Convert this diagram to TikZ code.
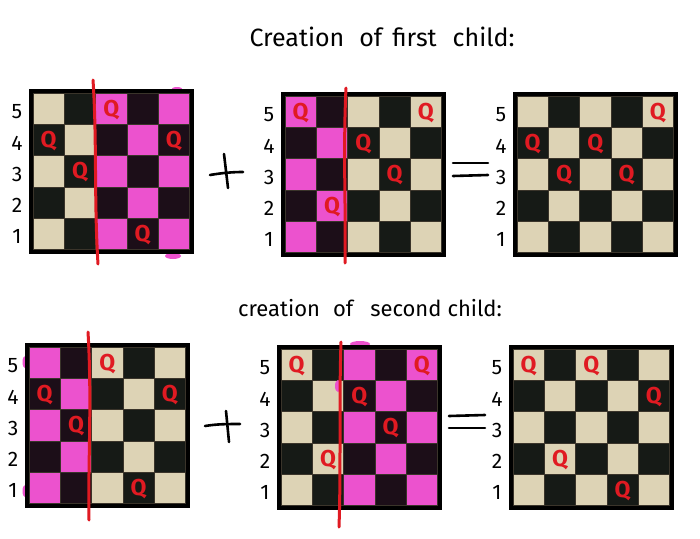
\documentclass[tikz,border=0pt]{standalone}
\usepackage{fontspec}
\setmainfont{Fira Sans}
\definecolor{lightcell}{HTML}{DDD3B5}
\definecolor{darkcell}{HTML}{161A16}
\definecolor{pinkcell}{HTML}{EC52CE}
\definecolor{darkpink}{HTML}{1C0E18}
\definecolor{qred}{HTML}{E01A22}
\definecolor{gridline}{HTML}{3A342A}
\tikzset{
 queen/.style={text=qred, font=\fontsize{23}{23}\selectfont\bfseries, inner sep=0pt},
 rowlabel/.style={font=\fontsize{21}{21}\selectfont, inner sep=0pt},
 titleA/.style={font=\fontsize{25}{25}\selectfont, inner sep=0pt},
 titleB/.style={font=\fontsize{22}{22}\selectfont, inner sep=0pt},
 cutline/.style={draw=qred, line width=3pt, line cap=round},
 handline/.style={draw=black, line width=2.6pt, line cap=round},
 blot/.style={fill=pinkcell},
}
\def\cellS{31.3}
\newcommand\myboard[5]{% #1 name, #2 x0, #3 y0, #4 first pink col, #5 last pink col
 \fill[black] (#2-4.5,#3-4.5) rectangle ({#2+5*\cellS+4.5},{#3+5*\cellS+4.5});
 \foreach \colI in {1,...,5}{
  \foreach \rowI in {1,...,5}{
   \pgfmathtruncatemacro\parI{mod(\colI+\rowI,2)}
   \ifnum\parI=0 \def\fillc{lightcell}\else\def\fillc{darkcell}\fi
   \ifnum\colI<#4\relax\else\ifnum\colI>#5\relax\else
     \ifnum\parI=0 \def\fillc{pinkcell}\else\def\fillc{darkpink}\fi\fi\fi
   \fill[\fillc,draw=gridline,line width=0.5pt] ({#2+(\colI-1)*\cellS},{#3+(5-\rowI)*\cellS}) rectangle ++(\cellS,\cellS);
  }
  \node[rowlabel] (#1l\colI) at ({#2-16},{#3+(5.5-\colI)*\cellS+3}) {\colI};
 }
 \coordinate (#1) at (#2,#3);
}
\newcommand\qat[5]{% #1 x0, #2 y0, #3 col, #4 row, #5 name
 \node[queen] (#5) at ({#1+(#3-0.5)*\cellS},{#2+(5.5-#4)*\cellS+1}) {Q};
}
\begin{document}
\begin{tikzpicture}[x=1pt,y=-1pt]
\fill[white] (0,0) rectangle (700,538);
\useasboundingbox (0,0) rectangle (700,538);

\node[titleA] (t1) at (382,37) {Creation\hspace{15pt}of\hspace{10pt}first\hspace{16pt}child:};
\node[titleB] (t2) at (370,308) {creation\hspace{13pt}of\hspace{17pt}second\hspace{6pt}child:};

% pink highlighter overflow around the frames
\fill[blot] (177,90) ellipse (6pt and 3pt);
\fill[blot] (173,256) ellipse (8pt and 3pt);
\fill[blot] (25,362) ellipse (2.5pt and 6pt);
\fill[blot] (25,491) ellipse (2.5pt and 6pt);
\fill[blot] (360,344) ellipse (10pt and 3pt);

% top row
\myboard{b1}{33}{93}{3}{5}
\qat{33}{93}{3}{5}{b1q1}\qat{33}{93}{1}{4}{b1q2}\qat{33}{93}{5}{4}{b1q3}\qat{33}{93}{2}{3}{b1q4}\qat{33}{93}{4}{1}{b1q5}
\myboard{b2}{285}{96}{1}{2}
\qat{285}{96}{1}{5}{b2q1}\qat{285}{96}{5}{5}{b2q2}\qat{285}{96}{3}{4}{b2q3}\qat{285}{96}{4}{3}{b2q4}\qat{285}{96}{2}{2}{b2q5}
\myboard{b3}{517}{96}{9}{9}
\qat{517}{96}{5}{5}{b3q1}\qat{517}{96}{1}{4}{b3q2}\qat{517}{96}{3}{4}{b3q3}\qat{517}{96}{2}{3}{b3q4}\qat{517}{96}{4}{3}{b3q5}

% bottom row
\myboard{b4}{29}{347}{1}{2}
\qat{29}{347}{3}{5}{b4q1}\qat{29}{347}{1}{4}{b4q2}\qat{29}{347}{5}{4}{b4q3}\qat{29}{347}{2}{3}{b4q4}\qat{29}{347}{4}{1}{b4q5}
\myboard{b5}{281}{349}{3}{5}
\fill[blot] (338,386) ellipse (3pt and 6pt);
\qat{281}{349}{1}{5}{b5q1}\qat{281}{349}{5}{5}{b5q2}\qat{281}{349}{3}{4}{b5q3}\qat{281}{349}{4}{3}{b5q4}\qat{281}{349}{2}{2}{b5q5}
\myboard{b6}{513}{349}{9}{9}
\qat{513}{349}{1}{5}{b6q1}\qat{513}{349}{3}{5}{b6q2}\qat{513}{349}{5}{4}{b6q3}\qat{513}{349}{2}{2}{b6q4}\qat{513}{349}{4}{1}{b6q5}

% crossover cut lines
\draw[cutline] (93,80) .. controls (97,140) and (94,200) .. (98,264);
\draw[cutline] (346,88) .. controls (343,150) and (346,210) .. (345,263);
\draw[cutline] (88,332) .. controls (92,400) and (88,460) .. (89,520);
\draw[cutline] (341,342) .. controls (339,400) and (341,470) .. (339,527);

% plus and equals signs
\draw[handline] (210,175) .. controls (222,173) and (232,172) .. (243,172);
\draw[handline] (224,154) -- (228,188);
\draw[handline] (453,163) -- (488,163);
\draw[handline] (453,176) -- (488,175);
\draw[handline] (205,426) .. controls (217,424) and (228,424) .. (240,424);
\draw[handline] (226,411) -- (229,442);
\draw[handline] (449,416) -- (485,415);
\draw[handline] (449,428) -- (485,428);
\end{tikzpicture}
\end{document}
